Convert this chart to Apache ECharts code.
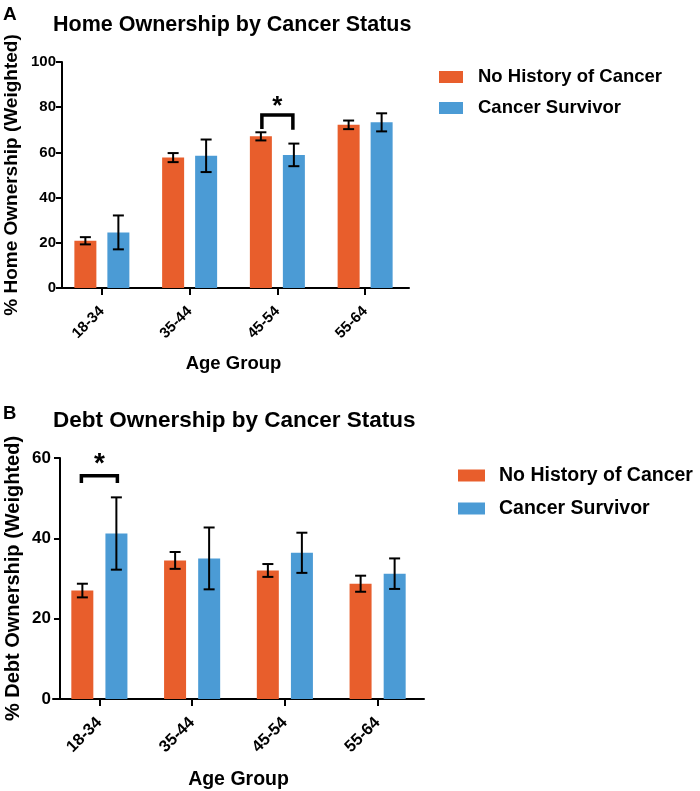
<!DOCTYPE html>
<html>
<head>
<meta charset="utf-8">
<script src="https://cdn.jsdelivr.net/npm/echarts@6/dist/echarts.min.js"></script>
<style>html,body{margin:0;padding:0;background:#fff}#c{width:700px;height:791px}</style>
</head>
<body>
<div id="c"></div>
<script>
const categories = ['18-34', '35-44', '45-54', '55-64'];
const seriesNames = ['No History of Cancer', 'Cancer Survivor'];
// Panel A: home ownership (%)
const homeNoCancer = [20.9, 57.7, 67.1, 72.2];
const homeNoCancerErr = [1.6, 2.0, 1.8, 1.9];
const homeSurvivor = [24.6, 58.5, 58.9, 73.3];
const homeSurvivorErr = [7.5, 7.2, 5.0, 4.0];
const homeSig = [[2, 76.5, 70.3, 70.0]]; // [category, bracket top, left leg end, right leg end]
// Panel B: debt ownership (%)
const debtNoCancer = [27.0, 34.5, 32.0, 28.7];
const debtNoCancerErr = [1.7, 2.1, 1.6, 2.0];
const debtSurvivor = [41.2, 35.0, 36.4, 31.2];
const debtSurvivorErr = [9.0, 7.7, 5.0, 3.8];
const debtSig = [[0, 55.6, 53.8, 53.8]];
const yTicksA = [0, 20, 40, 60, 80, 100];
const yTicksB = [0, 20, 40, 60];

const ORANGE = '#E85E2C', BLUE = '#4B9BD5';
const FONT = '"Liberation Sans", Arial, Helvetica, sans-serif';

function errData(vals, errs) { return vals.map((v, i) => [i, v, errs[i]]); }

function errRender(sign, halfSpan) {
  return function (params, api) {
    const c = api.value(0), v = api.value(1), e = api.value(2);
    const x = api.coord([c, v])[0] + sign * halfSpan;
    const yt = api.coord([c, v + e])[1];
    const yb = api.coord([c, v - e])[1];
    const cap = 5.5;
    const st = { stroke: '#000', lineWidth: 2 };
    return { type: 'group', children: [
      { type: 'line', shape: { x1: x, y1: yt, x2: x, y2: yb }, style: st },
      { type: 'line', shape: { x1: x - cap, y1: yt, x2: x + cap, y2: yt }, style: st },
      { type: 'line', shape: { x1: x - cap, y1: yb, x2: x + cap, y2: yb }, style: st }
    ]};
  };
}

function sigRender(halfSpan, starSize, starShift) {
  return function (params, api) {
    const c = api.value(0);
    const cx = api.coord([c, 0])[0];
    const yTop = api.coord([c, api.value(1)])[1];
    const yL = api.coord([c, api.value(2)])[1];
    const yR = api.coord([c, api.value(3)])[1];
    const xl = cx - halfSpan, xr = cx + halfSpan;
    return { type: 'group', children: [
      { type: 'polyline', shape: { points: [[xl, yL], [xl, yTop], [xr, yTop], [xr, yR]] },
        style: { stroke: '#000', lineWidth: 3.5, fill: null, lineJoin: 'miter' } },
      { type: 'text', style: { x: cx, y: yTop + starShift, text: '*', fontSize: starSize, fontWeight: 'bold',
        fontFamily: FONT, fill: '#000', align: 'center', verticalAlign: 'bottom' } }
    ]};
  };
}

function makeY(gridIndex, max, name, off, fs, nameFs, nameGap, margin) {
  return {
    gridIndex, type: 'value', min: 0, max, interval: 20, offset: off,
    name, nameLocation: 'middle', nameGap, nameMoveOverlap: false,
    nameTextStyle: { fontFamily: FONT, fontWeight: 'bold', fontSize: nameFs, color: '#000' },
    axisLine: { show: true, lineStyle: { color: '#000', width: 2 } },
    axisTick: { show: true, length: 6, lineStyle: { color: '#000', width: 2 } },
    axisLabel: { fontFamily: FONT, fontWeight: 'bold', fontSize: fs, color: '#000', margin },
    splitLine: { show: false }
  };
}
function makeX(gridIndex, fs, nameFs, nameGap, margin) {
  return {
    gridIndex, type: 'category', data: categories, name: 'Age Group', nameLocation: 'middle', nameGap, nameMoveOverlap: false,
    nameTextStyle: { fontFamily: FONT, fontWeight: 'bold', fontSize: nameFs, color: '#000' },
    axisLine: { show: true, lineStyle: { color: '#000', width: 2 } },
    axisTick: { show: true, alignWithLabel: true, length: 7, lineStyle: { color: '#000', width: 2 } },
    axisLabel: { rotate: 45, fontFamily: FONT, fontWeight: 'bold', fontSize: fs, color: '#000', margin }
  };
}

const titleStyle = (fs) => ({ fontFamily: FONT, fontWeight: 'bold', fontSize: fs, color: '#000' });

const chart = echarts.init(document.getElementById('c'), null, { renderer: 'canvas' });
chart.setOption({
  animation: false,
  backgroundColor: '#fff',
  title: [
    { text: 'A', left: 3, top: 5, padding: 0, textStyle: titleStyle(19) },
    { text: 'Home Ownership by Cancer Status', left: 53, top: 14, padding: 0, textStyle: titleStyle(21.5) },
    { text: 'B', left: 3, top: 404, padding: 0, textStyle: titleStyle(18.5) },
    { text: 'Debt Ownership by Cancer Status', left: 53, top: 409, padding: 0, textStyle: titleStyle(22.5) }
  ],
  legend: [
    { data: seriesNames, orient: 'vertical', left: 439, top: 67, padding: 0, icon: 'rect', itemWidth: 24, itemHeight: 12, itemGap: 11,
      textStyle: { fontFamily: FONT, fontWeight: 'bold', fontSize: 18.5, lineHeight: 20, color: '#000', padding: [0, 0, 0, 10] } },
    { data: seriesNames, orient: 'vertical', left: 458, top: 465, padding: 0, icon: 'rect', itemWidth: 27, itemHeight: 12, itemGap: 12,
      textStyle: { fontFamily: FONT, fontWeight: 'bold', fontSize: 19.5, lineHeight: 21, color: '#000', padding: [0, 0, 0, 9] } }
  ],
  grid: [
    { left: 58, top: 62, width: 351, height: 226, containLabel: false, outerBoundsMode: 'none' },
    { left: 53, top: 458, width: 371, height: 241, containLabel: false, outerBoundsMode: 'none' }
  ],
  xAxis: [ makeX(0, 15, 18.5, 66, 21), makeX(1, 16.5, 19.5, 71, 21) ],
  yAxis: [
    makeY(0, 100, '% Home Ownership (Weighted)', -4, 15, 19, 41, 6),
    makeY(1, 60, '% Debt Ownership (Weighted)', -7, 17, 20, 37, 9)
  ],
  series: [
    { name: seriesNames[0], type: 'bar', xAxisIndex: 0, yAxisIndex: 0, data: homeNoCancer, barWidth: 22, barGap: '50%', itemStyle: { color: ORANGE } },
    { name: seriesNames[1], type: 'bar', xAxisIndex: 0, yAxisIndex: 0, data: homeSurvivor, barWidth: 22, barGap: '50%', itemStyle: { color: BLUE } },
    { name: seriesNames[0], type: 'bar', xAxisIndex: 1, yAxisIndex: 1, data: debtNoCancer, barWidth: 22, barGap: '55%', itemStyle: { color: ORANGE } },
    { name: seriesNames[1], type: 'bar', xAxisIndex: 1, yAxisIndex: 1, data: debtSurvivor, barWidth: 22, barGap: '55%', itemStyle: { color: BLUE } },
    { type: 'custom', xAxisIndex: 0, yAxisIndex: 0, z: 5, data: errData(homeNoCancer, homeNoCancerErr), renderItem: errRender(-1, 16.5) },
    { type: 'custom', xAxisIndex: 0, yAxisIndex: 0, z: 5, data: errData(homeSurvivor, homeSurvivorErr), renderItem: errRender(1, 16.5) },
    { type: 'custom', xAxisIndex: 1, yAxisIndex: 1, z: 5, data: errData(debtNoCancer, debtNoCancerErr), renderItem: errRender(-1, 17) },
    { type: 'custom', xAxisIndex: 1, yAxisIndex: 1, z: 5, data: errData(debtSurvivor, debtSurvivorErr), renderItem: errRender(1, 17) },
    { type: 'custom', xAxisIndex: 0, yAxisIndex: 0, z: 5, data: homeSig, renderItem: sigRender(15.5, 26, 5) },
    { type: 'custom', xAxisIndex: 1, yAxisIndex: 1, z: 5, data: debtSig, renderItem: sigRender(18, 28, 3) }
  ]
});
</script>
</body>
</html>
